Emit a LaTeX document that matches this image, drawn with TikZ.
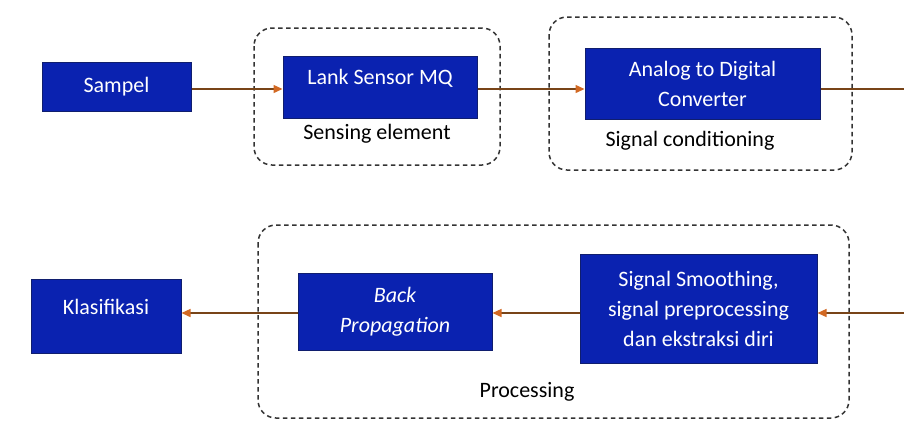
\documentclass[tikz,border=0pt]{standalone}
\usepackage{fontspec}
\setmainfont{Carlito}
\usetikzlibrary{arrows.meta}
\definecolor{boxblue}{RGB}{10,34,176}
\definecolor{boxedge}{RGB}{16,30,110}
\definecolor{flowline}{RGB}{120,68,24}
\definecolor{flowtip}{RGB}{210,105,35}
\tikzset{
  blockbox/.style={draw=boxedge, line width=1pt, fill=boxblue, inner sep=0pt},
  blocktext/.style={text=white, font=\fontsize{22}{30}\selectfont, align=center, inner sep=0pt},
  groupbox/.style={draw=black!80, line width=1.5pt, dash pattern=on 4.5pt off 3.5pt, rounded corners=18pt},
  grouplabel/.style={text=black, font=\fontsize{22}{30}\selectfont, inner sep=0pt},
  flow/.style={draw=flowline, line width=1.4pt, -{Triangle[length=9pt,width=8pt,color=flowtip]}},
  flowplain/.style={draw=flowline, line width=1.4pt}
}
\begin{document}
\begin{tikzpicture}[x=1pt,y=-1pt]
\useasboundingbox (0,0) rectangle (904,421);

% group outlines
\draw[groupbox] (254,28) rectangle (500,165);
\draw[groupbox] (549,17) rectangle (852,170);
\draw[groupbox] (258,225) rectangle (849,418);

% top row blocks
\node[blockbox, minimum width=149pt, minimum height=49pt] (sampel) at (116.5,86.5) {};
\node[blocktext] (sampeltext) at (sampel.center) {Sampel};

\node[blockbox, minimum width=194pt, minimum height=62pt] (lank) at (380,87) {};
\node[blocktext, anchor=center] (lanktext) at (380,78) {Lank Sensor MQ};
\node[grouplabel] (sensing) at (377,134) {Sensing element};

\node[blockbox, minimum width=235pt, minimum height=71pt] (adc) at (702.5,83.5) {};
\node[blocktext] (adctext) at (adc.center) {Analog to Digital\\Converter};
\node[grouplabel] (cond) at (690,141) {Signal conditioning};

% bottom row blocks
\node[blockbox, minimum width=150pt, minimum height=74pt] (klas) at (106,316) {};
\node[blocktext] (klastext) at (106,307) {Klasifikasi};

\node[blockbox, minimum width=194pt, minimum height=77pt] (bp) at (395,311.5) {};
\node[blocktext, font=\fontsize{22}{30}\selectfont\itshape] (bptext) at (bp.center) {Back\\Propagation};

\node[blockbox, minimum width=237pt, minimum height=109pt] (smooth) at (698.5,308.5) {};
\node[blocktext] (smoothtext) at (smooth.center) {Signal Smoothing,\\signal preprocessing\\dan ekstraksi diri};
\node[grouplabel] (proc) at (527,392) {Processing};

% connectors
\coordinate (outtop) at (904,89);
\coordinate (inbottom) at (904,313);
\draw[flow] (sampel.east |- outtop) -- (lank.west |- outtop);
\draw[flow] (lank.east |- outtop) -- (adc.west |- outtop);
\draw[flowplain] (adc.east |- outtop) -- (outtop);
\draw[flow] (inbottom) -- (smooth.east |- inbottom);
\draw[flow] (smooth.west |- inbottom) -- (bp.east |- inbottom);
\draw[flow] (bp.west |- inbottom) -- (klas.east |- inbottom);
\end{tikzpicture}
\end{document}
